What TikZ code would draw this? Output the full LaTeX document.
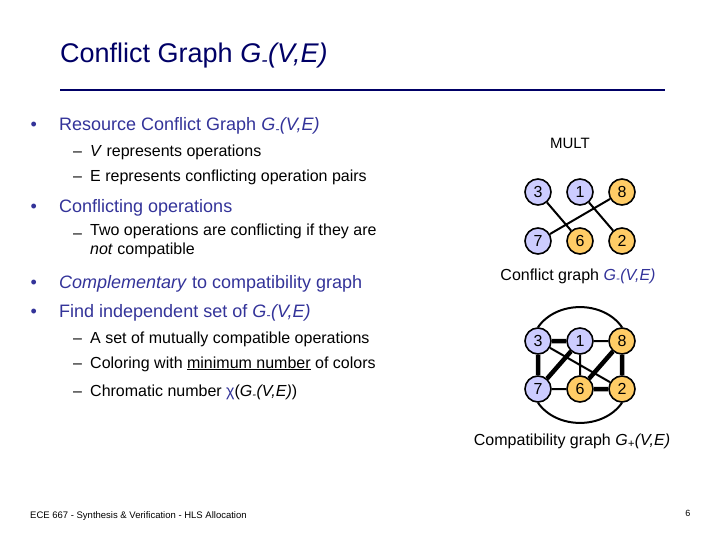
\documentclass[tikz,border=0pt]{standalone}
\usepackage{fontspec}
\setmainfont{Liberation Sans}
\definecolor{navy}{HTML}{000066}
\definecolor{bul}{HTML}{333399}
\definecolor{lav}{HTML}{CCCCFF}
\definecolor{org}{HTML}{FFCC66}
\newcommand{\Gm}{\textit{G\textsubscript{-}(V,E)}}
\begin{document}
\begin{tikzpicture}[x=1pt,y=-1pt,
  lv/.style={circle,draw,line width=1.6pt,fill=lav,minimum size=26pt,inner sep=0pt,font=\fontsize{16}{16}\selectfont},
  og/.style={lv,fill=org},
  bt/.style={anchor=base west,font=\fontsize{18}{21}\selectfont,text=bul},
  sb/.style={anchor=base west,font=\fontsize{16}{19}\selectfont,align=left},
  e/.style={line width=2pt},
  te/.style={line width=4.5pt}]
\useasboundingbox (0,0) rectangle (720,540);
\node[anchor=base west,text=navy,font=\fontsize{27}{30}\selectfont,inner sep=0pt] (title) at (60,63) {Conflict Graph \textit{G\textsubscript{-}(V,E)}};
\draw[navy,line width=2.8pt] (60,90) coordinate (l1) -- (665,90) coordinate (l2);
\node[bt] (b1d) at (27,131) {•}; \node[bt,inner sep=0pt] (b1) at (59,131) {Resource Conflict Graph \Gm};
\node[sb,inner sep=0pt] (s1d) at (73,157) {–}; \node[sb,inner sep=0pt] (s1) at (90,157) {\textit{V} represents operations};
\node[sb,inner sep=0pt] (s2d) at (73,182) {–}; \node[sb,inner sep=0pt] (s2) at (90,182) {E represents conflicting operation pairs};
\node[bt] (b2d) at (27,212) {•}; \node[bt,inner sep=0pt] (b2) at (59,212) {Conflicting operations};
\node[sb,inner sep=0pt] (s3d) at (73,238) {–}; \node[sb,inner sep=0pt,anchor=north west] (s3) at (90,224) {Two operations are conflicting if they are\\\textit{not} compatible};
\node[bt] (b3d) at (27,288) {•}; \node[bt,inner sep=0pt] (b3) at (59,288) {\textit{Complementary} to compatibility graph};
\node[bt] (b4d) at (27,317) {•}; \node[bt,inner sep=0pt] (b4) at (59,317) {Find independent set of \Gm};
\node[sb,inner sep=0pt] (s4d) at (73,343) {–}; \node[sb,inner sep=0pt] (s4) at (90,343) {A set of mutually compatible operations};
\node[sb,inner sep=0pt] (s5d) at (73,368) {–}; \node[sb,inner sep=0pt] (s5) at (90,368) {Coloring with \underline{minimum number} of colors};
\node[sb,inner sep=0pt] (s6d) at (73,396) {–}; \node[sb,inner sep=0pt] (s6) at (90,396) {Chromatic number {\color{bul}χ}(\Gm)};
\node[font=\fontsize{15}{15}\selectfont] (mult) at (570,143) {MULT};
\node[lv] (a3) at (538,192) {3}; \node[lv] (a1) at (580,192) {1}; \node[og] (a8) at (622,192) {8};
\node[lv] (a7) at (538,241) {7}; \node[og] (a6) at (580,241) {6}; \node[og] (a2) at (622,241) {2};
\draw[e] (a3)--(a6) (a1)--(a2) (a8)--(a7);
\node[font=\fontsize{16}{16}\selectfont] (cg) at (578,276) {Conflict graph {\color{bul}\Gm}};
\node[lv] (c3) at (538,341) {3}; \node[lv] (c1) at (580,341) {1}; \node[og] (c8) at (622,341) {8};
\node[lv] (c7) at (538,389) {7}; \node[og] (c6) at (580,389) {6}; \node[og] (c2) at (622,389) {2};
\draw[e] (c3.north) to[out=55,in=125] (c8.north);
\draw[e] (c7.south) to[out=-55,in=-125] (c2.south);
\draw[e] (c1)--(c8) (c1)--(c6) (c3)--(c2) (c7)--(c6);
\draw[te] (c3)--(c1) (c3)--(c7) (c1)--(c7) (c8)--(c6) (c8)--(c2) (c6)--(c2);
\node[font=\fontsize{16}{16}\selectfont] (pg) at (572,441) {Compatibility graph \textit{G\textsubscript{+}(V,E)}};
\node[anchor=base west,font=\fontsize{9.5}{9}\selectfont,inner sep=0pt] (foot) at (30,518) {ECE 667 - Synthesis \& Verification - HLS Allocation};
\node[anchor=base east,font=\fontsize{9}{9}\selectfont] (pn) at (694,516) {6};
\end{tikzpicture}
\end{document}
